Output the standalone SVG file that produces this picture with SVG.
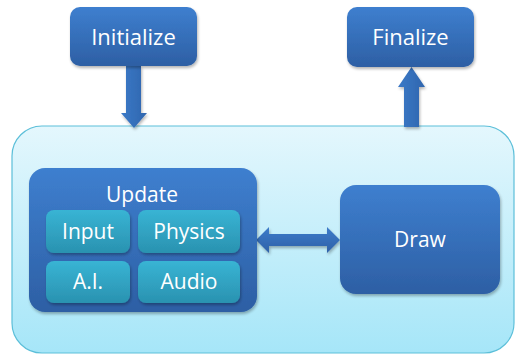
<svg xmlns="http://www.w3.org/2000/svg" width="517" height="356" viewBox="0 0 517 356">
  <defs>
    <linearGradient id="gBlue" x1="0" y1="0" x2="0" y2="1">
      <stop offset="0" stop-color="#3e7fcf"/>
      <stop offset="1" stop-color="#2d5fa4"/>
    </linearGradient>
    <linearGradient id="gTeal" x1="0" y1="0" x2="0" y2="1">
      <stop offset="0" stop-color="#38b4d4"/>
      <stop offset="1" stop-color="#2a92b0"/>
    </linearGradient>
    <linearGradient id="gPanel" x1="0" y1="0" x2="0" y2="1">
      <stop offset="0" stop-color="#e4f7fd"/>
      <stop offset="1" stop-color="#a6e6f8"/>
    </linearGradient>
    <linearGradient id="gArrowV" x1="0" y1="0" x2="1" y2="0">
      <stop offset="0" stop-color="#3b79c7"/>
      <stop offset="1" stop-color="#2f66ae"/>
    </linearGradient>
    <linearGradient id="gArrowH" x1="0" y1="0" x2="0" y2="1">
      <stop offset="0" stop-color="#3d7cca"/>
      <stop offset="1" stop-color="#2e61a8"/>
    </linearGradient>
    <filter id="shadow" x="-10%" y="-10%" width="125%" height="130%">
      <feGaussianBlur in="SourceAlpha" stdDeviation="1.6"/>
      <feOffset dx="0.5" dy="2" result="b"/>
      <feComponentTransfer><feFuncA type="linear" slope="0.3"/></feComponentTransfer>
      <feMerge><feMergeNode/><feMergeNode in="SourceGraphic"/></feMerge>
    </filter>
  </defs>
  <style>
    .box { fill: url(#gBlue); filter: url(#shadow); }
    .sub { fill: url(#gTeal); filter: url(#shadow); }
    .lbl { font-family: "Open Sans", "Liberation Sans", Arial, sans-serif; font-size: 21px; fill: #ffffff; text-anchor: middle; }
    .big { font-size: 22px; }
  </style>

  <!-- game loop panel -->
  <g id="loop">
    <rect x="12" y="126" width="502" height="227" rx="30" fill="url(#gPanel)" stroke="#5cbfd9" stroke-width="1.2"/>
  </g>

  <!-- connectors -->
  <g id="connectors" filter="url(#shadow)">
    <path d="M126,66 H141 V113 H147 L134,128 L121,113 H126 Z" fill="url(#gArrowV)"/>
    <path d="M404,127 V87 H398 L411.5,67 L425,87 H419 V127 Z" fill="url(#gArrowV)"/>
    <path d="M256,240 L269,227 V234 H327 V227 L340,240 L327,253 V246 H269 V253 Z" fill="url(#gArrowH)"/>
  </g>

  <g id="initialize">
    <rect class="box" x="70" y="7" width="127" height="59" rx="10"/>
    <text class="lbl big" x="133.5" y="45">Initialize</text>
  </g>

  <g id="finalize">
    <rect class="box" x="347" y="7" width="127" height="60" rx="10"/>
    <text class="lbl big" x="410.5" y="45">Finalize</text>
  </g>

  <g id="update">
    <rect class="box" x="29" y="168" width="228" height="144" rx="16"/>
    <text class="lbl" x="142" y="202">Update</text>
  </g>

  <g id="input">
    <rect class="sub" x="46" y="210" width="84" height="43" rx="8"/>
    <text class="lbl" x="88" y="239">Input</text>
  </g>

  <g id="physics">
    <rect class="sub" x="138" y="210" width="102" height="43" rx="8"/>
    <text class="lbl" x="189" y="239">Physics</text>
  </g>

  <g id="ai">
    <rect class="sub" x="46" y="261" width="84" height="42" rx="8"/>
    <text class="lbl" x="88" y="289">A.I.</text>
  </g>

  <g id="audio">
    <rect class="sub" x="138" y="261" width="102" height="42" rx="8"/>
    <text class="lbl" x="189" y="289">Audio</text>
  </g>

  <g id="draw">
    <rect class="box" x="340" y="185" width="160" height="109" rx="16"/>
    <text class="lbl" x="420" y="247">Draw</text>
  </g>
</svg>
